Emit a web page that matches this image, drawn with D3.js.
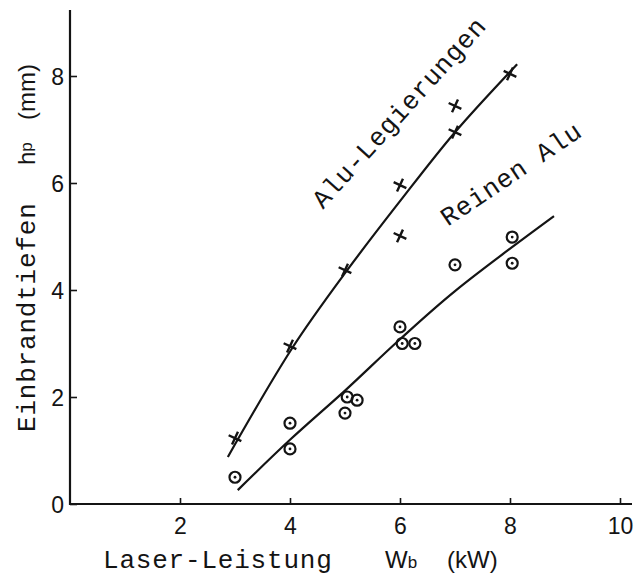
<!DOCTYPE html>
<html>
<head>
<meta charset="utf-8">
<script src="https://cdn.jsdelivr.net/npm/d3@7"></script>
<style>
  body { margin: 0; background: #fff; }
  svg { display: block; }
  .mono { font-family: 'Liberation Mono', 'Courier New', monospace; font-size: 26px; letter-spacing: 0.8px; fill: #141414; }
  .sans { font-family: 'Liberation Sans', Arial, sans-serif; fill: #141414; }
</style>
</head>
<body>
<svg width="634" height="576"></svg>
<script>
'use strict';

// Laser-Leistung (kW) vs Einbrandtiefe (mm)
const xTicks = [2, 4, 6, 8, 10];
const yTicks = [0, 2, 4, 6, 8];

const legX = [3, 4, 5, 6, 6, 7, 7, 8];
const legY = [1.23, 2.95, 4.37, 5.96, 5.01, 6.95, 7.44, 8.04];

const reinX = [3, 4, 4, 5.04, 5.22, 5.0, 6.0, 6.04, 6.27, 7, 8.04, 8.04];
const reinY = [0.5, 1.51, 1.03, 2.0, 1.94, 1.7, 3.31, 3.0, 3.0, 4.47, 4.99, 4.5];

// hand-drawn fit curves
const legCurveX = [2.87, 4.05, 5.04, 6, 7, 8.13];
const legCurveY = [0.88, 2.93, 4.37, 5.66, 6.95, 8.22];
const reinCurveX = [3.05, 4, 5, 6, 7, 8.8];
const reinCurveY = [0.26, 1.2, 2.12, 3.08, 3.98, 5.38];

const svg = d3.select('svg');

const x = d3.scaleLinear().domain([0, 10]).range([70, 620]);
const y = d3.scaleLinear().domain([0, 8]).range([504, 76]);

const ink = '#141414';

// axes
const xAxis = svg.append('g')
  .attr('transform', `translate(0,${y(0)})`)
  .call(d3.axisBottom(x).tickValues(xTicks).tickSize(-6).tickPadding(14).tickFormat(d3.format('d')));
xAxis.select('.domain').remove();
svg.append('line')
  .attr('x1', x(0)).attr('x2', 632)
  .attr('y1', y(0)).attr('y2', y(0))
  .attr('stroke', ink).attr('stroke-width', 2.2);

const yAxis = svg.append('g')
  .attr('transform', `translate(${x(0)},0)`)
  .call(d3.axisLeft(y).tickValues(yTicks).tickSize(-7).tickPadding(6).tickFormat(d3.format('d')));
yAxis.select('.domain').remove();
svg.append('line')
  .attr('x1', x(0)).attr('x2', x(0))
  .attr('y1', y(0) + 1).attr('y2', 10)
  .attr('stroke', ink).attr('stroke-width', 2.2);

svg.selectAll('.tick line').attr('stroke', ink).attr('stroke-width', 1.6);
svg.selectAll('.tick text')
  .attr('class', 'sans')
  .attr('font-size', 23)
  .attr('fill', ink);
yAxis.selectAll('.tick text').attr('dy', '0.36em');

// fit curves
const line = d3.line().x(d => x(d[0])).y(d => y(d[1])).curve(d3.curveCatmullRom.alpha(0.5));
svg.append('path')
  .datum(d3.zip(legCurveX, legCurveY))
  .attr('d', line)
  .attr('fill', 'none').attr('stroke', ink).attr('stroke-width', 2.2);
svg.append('path')
  .datum(d3.zip(reinCurveX, reinCurveY))
  .attr('d', line)
  .attr('fill', 'none').attr('stroke', ink).attr('stroke-width', 2.2);

// cross markers
const r = 7;
svg.append('g')
  .selectAll('path')
  .data(d3.zip(legX, legY))
  .enter().append('path')
    .attr('transform', d => `translate(${x(d[0])},${y(d[1])}) rotate(25)`)
    .attr('d', `M${-r},0L${r},0M0,${-r}L0,${r}`)
    .attr('stroke', ink).attr('stroke-width', 2.4)
    .attr('fill', 'none');

// circle markers with centre dot
const rein = svg.append('g')
  .selectAll('g')
  .data(d3.zip(reinX, reinY))
  .enter().append('g')
    .attr('transform', d => `translate(${x(d[0])},${y(d[1])})`);
rein.append('circle')
  .attr('r', 5.5)
  .attr('fill', 'none').attr('stroke', ink).attr('stroke-width', 2.2);
rein.append('circle')
  .attr('r', 1.4)
  .attr('fill', ink);

// series labels
svg.append('text')
  .attr('class', 'mono')
  .attr('transform', `translate(${x(4.6)},${y(5.5)}) rotate(-48)`)
  .text('Alu-Legierungen');
svg.append('text')
  .attr('class', 'mono')
  .attr('transform', `translate(${x(6.87)},${y(5.18)}) rotate(-34)`)
  .text('Reinen Alu');

// axis titles
const xt = svg.append('text').attr('y', 568);
xt.append('tspan').attr('class', 'mono').attr('x', 103).text('Laser-Leistung');
xt.append('tspan').attr('class', 'sans').attr('x', 385).attr('font-size', 24).text('W');
xt.append('tspan').attr('class', 'sans').attr('font-size', 17).text('b');
xt.append('tspan').attr('class', 'sans').attr('x', 447).attr('font-size', 24).text('(kW)');

const yt = svg.append('text').attr('transform', 'rotate(-90)').attr('y', 35);
yt.append('tspan').attr('class', 'mono').attr('x', -432).text('Einbrandtiefen');
yt.append('tspan').attr('class', 'sans').attr('x', -165).attr('font-size', 24).text('h');
yt.append('tspan').attr('class', 'sans').attr('font-size', 17).attr('dy', -3).text('p');
yt.append('tspan').attr('class', 'sans').attr('x', -120).attr('dy', 3).attr('font-size', 24).text('(mm)');
</script>
</body>
</html>
